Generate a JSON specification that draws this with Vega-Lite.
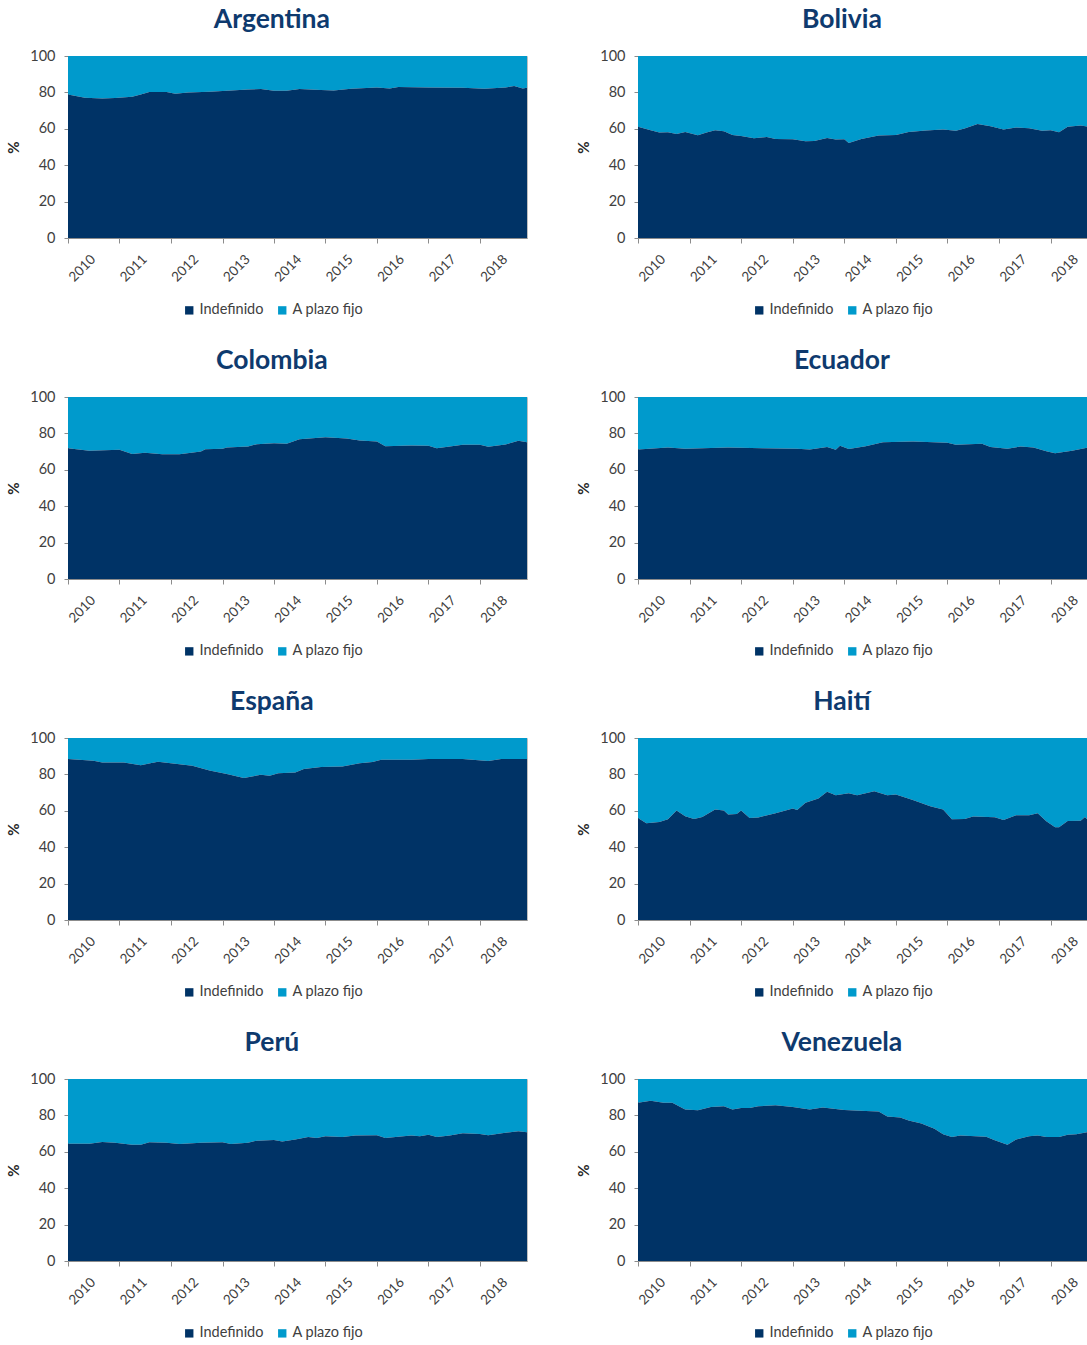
{
  "$schema": "https://vega.github.io/schema/vega-lite/v6.json",
  "padding": {"left": 6, "top": 6, "right": 0, "bottom": 0},
  "background": "white",
  "data": {
    "values": [
      {"c": "Argentina", "d": "2010-01-01", "i": 78.9},
      {"c": "Argentina", "d": "2010-05-01", "i": 77.1},
      {"c": "Argentina", "d": "2010-09-01", "i": 76.7},
      {"c": "Argentina", "d": "2010-12-01", "i": 76.9},
      {"c": "Argentina", "d": "2011-04-01", "i": 77.6},
      {"c": "Argentina", "d": "2011-06-01", "i": 78.9},
      {"c": "Argentina", "d": "2011-08-01", "i": 80.2},
      {"c": "Argentina", "d": "2011-12-01", "i": 80.2},
      {"c": "Argentina", "d": "2012-02-01", "i": 79.3},
      {"c": "Argentina", "d": "2012-05-01", "i": 80.0},
      {"c": "Argentina", "d": "2012-10-01", "i": 80.4},
      {"c": "Argentina", "d": "2013-02-01", "i": 80.9},
      {"c": "Argentina", "d": "2013-07-01", "i": 81.6},
      {"c": "Argentina", "d": "2013-10-01", "i": 81.8},
      {"c": "Argentina", "d": "2014-01-01", "i": 80.9},
      {"c": "Argentina", "d": "2014-04-01", "i": 80.9},
      {"c": "Argentina", "d": "2014-07-01", "i": 81.8},
      {"c": "Argentina", "d": "2014-12-01", "i": 81.3},
      {"c": "Argentina", "d": "2015-03-01", "i": 81.1},
      {"c": "Argentina", "d": "2015-07-01", "i": 82.0},
      {"c": "Argentina", "d": "2016-01-01", "i": 82.7},
      {"c": "Argentina", "d": "2016-04-01", "i": 82.2},
      {"c": "Argentina", "d": "2016-06-01", "i": 82.9},
      {"c": "Argentina", "d": "2017-01-01", "i": 82.7},
      {"c": "Argentina", "d": "2017-09-01", "i": 82.5},
      {"c": "Argentina", "d": "2018-02-01", "i": 82.0},
      {"c": "Argentina", "d": "2018-07-01", "i": 82.7},
      {"c": "Argentina", "d": "2018-09-01", "i": 83.5},
      {"c": "Argentina", "d": "2018-11-01", "i": 82.2},
      {"c": "Argentina", "d": "2018-12-01", "i": 82.5},

      {"c": "Bolivia", "d": "2010-01-01", "i": 61.1},
      {"c": "Bolivia", "d": "2010-04-01", "i": 59.2},
      {"c": "Bolivia", "d": "2010-06-01", "i": 57.9},
      {"c": "Bolivia", "d": "2010-08-01", "i": 58.1},
      {"c": "Bolivia", "d": "2010-10-01", "i": 57.2},
      {"c": "Bolivia", "d": "2010-12-01", "i": 58.3},
      {"c": "Bolivia", "d": "2011-03-01", "i": 56.5},
      {"c": "Bolivia", "d": "2011-05-01", "i": 57.9},
      {"c": "Bolivia", "d": "2011-07-01", "i": 59.2},
      {"c": "Bolivia", "d": "2011-09-01", "i": 58.7},
      {"c": "Bolivia", "d": "2011-11-01", "i": 56.6},
      {"c": "Bolivia", "d": "2012-01-01", "i": 56.1},
      {"c": "Bolivia", "d": "2012-04-01", "i": 54.8},
      {"c": "Bolivia", "d": "2012-07-01", "i": 55.5},
      {"c": "Bolivia", "d": "2012-09-01", "i": 54.4},
      {"c": "Bolivia", "d": "2013-01-01", "i": 54.2},
      {"c": "Bolivia", "d": "2013-04-01", "i": 53.1},
      {"c": "Bolivia", "d": "2013-06-01", "i": 53.3},
      {"c": "Bolivia", "d": "2013-09-01", "i": 55.0},
      {"c": "Bolivia", "d": "2013-11-01", "i": 54.1},
      {"c": "Bolivia", "d": "2014-01-01", "i": 54.2},
      {"c": "Bolivia", "d": "2014-02-01", "i": 52.2},
      {"c": "Bolivia", "d": "2014-05-01", "i": 54.4},
      {"c": "Bolivia", "d": "2014-09-01", "i": 56.3},
      {"c": "Bolivia", "d": "2015-01-01", "i": 56.6},
      {"c": "Bolivia", "d": "2015-04-01", "i": 58.3},
      {"c": "Bolivia", "d": "2015-08-01", "i": 59.0},
      {"c": "Bolivia", "d": "2015-12-01", "i": 59.6},
      {"c": "Bolivia", "d": "2016-03-01", "i": 58.9},
      {"c": "Bolivia", "d": "2016-05-01", "i": 60.1},
      {"c": "Bolivia", "d": "2016-08-01", "i": 62.7},
      {"c": "Bolivia", "d": "2016-11-01", "i": 61.4},
      {"c": "Bolivia", "d": "2017-02-01", "i": 59.6},
      {"c": "Bolivia", "d": "2017-05-01", "i": 60.7},
      {"c": "Bolivia", "d": "2017-08-01", "i": 60.3},
      {"c": "Bolivia", "d": "2017-11-01", "i": 58.9},
      {"c": "Bolivia", "d": "2018-01-01", "i": 59.2},
      {"c": "Bolivia", "d": "2018-03-01", "i": 58.1},
      {"c": "Bolivia", "d": "2018-05-01", "i": 61.1},
      {"c": "Bolivia", "d": "2018-08-01", "i": 61.8},
      {"c": "Bolivia", "d": "2018-09-15", "i": 61.3},

      {"c": "Colombia", "d": "2010-01-01", "i": 71.8},
      {"c": "Colombia", "d": "2010-06-01", "i": 70.4},
      {"c": "Colombia", "d": "2011-01-01", "i": 71.0},
      {"c": "Colombia", "d": "2011-04-01", "i": 68.7},
      {"c": "Colombia", "d": "2011-07-01", "i": 69.3},
      {"c": "Colombia", "d": "2011-11-01", "i": 68.5},
      {"c": "Colombia", "d": "2012-03-01", "i": 68.5},
      {"c": "Colombia", "d": "2012-08-01", "i": 70.0},
      {"c": "Colombia", "d": "2012-09-01", "i": 71.3},
      {"c": "Colombia", "d": "2013-01-01", "i": 71.6},
      {"c": "Colombia", "d": "2013-02-01", "i": 72.2},
      {"c": "Colombia", "d": "2013-07-01", "i": 72.8},
      {"c": "Colombia", "d": "2013-09-01", "i": 74.1},
      {"c": "Colombia", "d": "2014-01-01", "i": 74.6},
      {"c": "Colombia", "d": "2014-04-01", "i": 74.3},
      {"c": "Colombia", "d": "2014-07-01", "i": 76.8},
      {"c": "Colombia", "d": "2015-01-01", "i": 77.9},
      {"c": "Colombia", "d": "2015-06-01", "i": 77.2},
      {"c": "Colombia", "d": "2015-09-01", "i": 76.1},
      {"c": "Colombia", "d": "2016-01-01", "i": 75.6},
      {"c": "Colombia", "d": "2016-03-01", "i": 73.0},
      {"c": "Colombia", "d": "2016-09-01", "i": 73.4},
      {"c": "Colombia", "d": "2017-01-01", "i": 73.2},
      {"c": "Colombia", "d": "2017-03-01", "i": 71.9},
      {"c": "Colombia", "d": "2017-09-01", "i": 73.7},
      {"c": "Colombia", "d": "2018-01-01", "i": 73.7},
      {"c": "Colombia", "d": "2018-03-01", "i": 72.6},
      {"c": "Colombia", "d": "2018-07-01", "i": 73.9},
      {"c": "Colombia", "d": "2018-10-01", "i": 75.9},
      {"c": "Colombia", "d": "2018-12-01", "i": 75.2},

      {"c": "Ecuador", "d": "2010-01-01", "i": 71.2},
      {"c": "Ecuador", "d": "2010-08-01", "i": 72.3},
      {"c": "Ecuador", "d": "2010-12-01", "i": 71.5},
      {"c": "Ecuador", "d": "2011-10-01", "i": 72.3},
      {"c": "Ecuador", "d": "2012-06-01", "i": 71.9},
      {"c": "Ecuador", "d": "2013-02-01", "i": 71.5},
      {"c": "Ecuador", "d": "2013-05-01", "i": 71.2},
      {"c": "Ecuador", "d": "2013-09-01", "i": 72.5},
      {"c": "Ecuador", "d": "2013-11-01", "i": 71.0},
      {"c": "Ecuador", "d": "2013-12-01", "i": 73.2},
      {"c": "Ecuador", "d": "2014-02-01", "i": 71.4},
      {"c": "Ecuador", "d": "2014-06-01", "i": 73.0},
      {"c": "Ecuador", "d": "2014-10-01", "i": 75.2},
      {"c": "Ecuador", "d": "2015-05-01", "i": 75.6},
      {"c": "Ecuador", "d": "2016-01-01", "i": 74.8},
      {"c": "Ecuador", "d": "2016-03-01", "i": 73.7},
      {"c": "Ecuador", "d": "2016-09-01", "i": 74.3},
      {"c": "Ecuador", "d": "2016-11-01", "i": 72.5},
      {"c": "Ecuador", "d": "2017-03-01", "i": 71.5},
      {"c": "Ecuador", "d": "2017-06-01", "i": 72.8},
      {"c": "Ecuador", "d": "2017-09-01", "i": 72.3},
      {"c": "Ecuador", "d": "2017-12-01", "i": 70.2},
      {"c": "Ecuador", "d": "2018-02-01", "i": 69.1},
      {"c": "Ecuador", "d": "2018-06-01", "i": 70.4},
      {"c": "Ecuador", "d": "2018-09-15", "i": 72.1},

      {"c": "España", "d": "2010-01-01", "i": 88.4},
      {"c": "España", "d": "2010-07-01", "i": 87.5},
      {"c": "España", "d": "2010-09-01", "i": 86.6},
      {"c": "España", "d": "2011-02-01", "i": 86.6},
      {"c": "España", "d": "2011-06-01", "i": 85.0},
      {"c": "España", "d": "2011-10-01", "i": 87.0},
      {"c": "España", "d": "2012-01-01", "i": 86.1},
      {"c": "España", "d": "2012-06-01", "i": 84.8},
      {"c": "España", "d": "2012-10-01", "i": 82.2},
      {"c": "España", "d": "2013-02-01", "i": 80.2},
      {"c": "España", "d": "2013-06-01", "i": 78.0},
      {"c": "España", "d": "2013-10-01", "i": 79.8},
      {"c": "España", "d": "2013-12-01", "i": 79.3},
      {"c": "España", "d": "2014-02-01", "i": 80.6},
      {"c": "España", "d": "2014-06-01", "i": 81.1},
      {"c": "España", "d": "2014-08-01", "i": 82.9},
      {"c": "España", "d": "2014-12-01", "i": 84.0},
      {"c": "España", "d": "2015-05-01", "i": 84.4},
      {"c": "España", "d": "2015-09-01", "i": 86.1},
      {"c": "España", "d": "2015-12-01", "i": 86.8},
      {"c": "España", "d": "2016-02-01", "i": 88.1},
      {"c": "España", "d": "2016-09-01", "i": 88.1},
      {"c": "España", "d": "2017-01-01", "i": 88.4},
      {"c": "España", "d": "2017-09-01", "i": 88.4},
      {"c": "España", "d": "2018-03-01", "i": 87.3},
      {"c": "España", "d": "2018-06-01", "i": 88.4},
      {"c": "España", "d": "2018-12-01", "i": 88.4},

      {"c": "Haití", "d": "2010-01-01", "i": 56.1},
      {"c": "Haití", "d": "2010-03-01", "i": 53.1},
      {"c": "Haití", "d": "2010-06-01", "i": 53.9},
      {"c": "Haití", "d": "2010-08-01", "i": 55.4},
      {"c": "Haití", "d": "2010-10-01", "i": 60.1},
      {"c": "Haití", "d": "2010-12-01", "i": 57.0},
      {"c": "Haití", "d": "2011-02-01", "i": 55.5},
      {"c": "Haití", "d": "2011-04-01", "i": 56.6},
      {"c": "Haití", "d": "2011-07-01", "i": 60.7},
      {"c": "Haití", "d": "2011-09-01", "i": 60.1},
      {"c": "Haití", "d": "2011-10-01", "i": 57.9},
      {"c": "Haití", "d": "2011-12-01", "i": 58.3},
      {"c": "Haití", "d": "2012-01-01", "i": 60.1},
      {"c": "Haití", "d": "2012-03-01", "i": 56.1},
      {"c": "Haití", "d": "2012-05-01", "i": 56.3},
      {"c": "Haití", "d": "2012-09-01", "i": 58.7},
      {"c": "Haití", "d": "2013-01-01", "i": 61.3},
      {"c": "Haití", "d": "2013-02-01", "i": 60.5},
      {"c": "Haití", "d": "2013-04-01", "i": 64.4},
      {"c": "Haití", "d": "2013-07-01", "i": 66.8},
      {"c": "Haití", "d": "2013-09-01", "i": 70.5},
      {"c": "Haití", "d": "2013-11-01", "i": 68.6},
      {"c": "Haití", "d": "2014-02-01", "i": 69.7},
      {"c": "Haití", "d": "2014-04-01", "i": 68.6},
      {"c": "Haití", "d": "2014-08-01", "i": 70.8},
      {"c": "Haití", "d": "2014-11-01", "i": 68.6},
      {"c": "Haití", "d": "2015-01-01", "i": 69.0},
      {"c": "Haití", "d": "2015-05-01", "i": 65.9},
      {"c": "Haití", "d": "2015-09-01", "i": 62.5},
      {"c": "Haití", "d": "2015-12-01", "i": 60.7},
      {"c": "Haití", "d": "2016-02-01", "i": 55.4},
      {"c": "Haití", "d": "2016-05-01", "i": 55.5},
      {"c": "Haití", "d": "2016-07-01", "i": 56.8},
      {"c": "Haití", "d": "2016-12-01", "i": 56.5},
      {"c": "Haití", "d": "2017-02-01", "i": 55.0},
      {"c": "Haití", "d": "2017-05-01", "i": 57.6},
      {"c": "Haití", "d": "2017-08-01", "i": 57.6},
      {"c": "Haití", "d": "2017-10-01", "i": 58.7},
      {"c": "Haití", "d": "2017-12-01", "i": 54.2},
      {"c": "Haití", "d": "2018-02-01", "i": 50.9},
      {"c": "Haití", "d": "2018-03-01", "i": 50.9},
      {"c": "Haití", "d": "2018-05-01", "i": 54.4},
      {"c": "Haití", "d": "2018-08-01", "i": 54.6},
      {"c": "Haití", "d": "2018-09-01", "i": 56.6},
      {"c": "Haití", "d": "2018-09-15", "i": 55.4},

      {"c": "Perú", "d": "2010-01-01", "i": 64.4},
      {"c": "Perú", "d": "2010-06-01", "i": 64.4},
      {"c": "Perú", "d": "2010-09-01", "i": 65.4},
      {"c": "Perú", "d": "2010-12-01", "i": 65.0},
      {"c": "Perú", "d": "2011-04-01", "i": 63.9},
      {"c": "Perú", "d": "2011-06-01", "i": 63.9},
      {"c": "Perú", "d": "2011-08-01", "i": 65.2},
      {"c": "Perú", "d": "2011-12-01", "i": 65.0},
      {"c": "Perú", "d": "2012-03-01", "i": 64.3},
      {"c": "Perú", "d": "2012-08-01", "i": 65.0},
      {"c": "Perú", "d": "2013-01-01", "i": 65.2},
      {"c": "Perú", "d": "2013-03-01", "i": 64.3},
      {"c": "Perú", "d": "2013-07-01", "i": 65.0},
      {"c": "Perú", "d": "2013-09-01", "i": 66.1},
      {"c": "Perú", "d": "2014-01-01", "i": 66.5},
      {"c": "Perú", "d": "2014-03-01", "i": 65.6},
      {"c": "Perú", "d": "2014-06-01", "i": 66.7},
      {"c": "Perú", "d": "2014-09-01", "i": 68.1},
      {"c": "Perú", "d": "2014-11-01", "i": 67.6},
      {"c": "Perú", "d": "2015-01-01", "i": 68.5},
      {"c": "Perú", "d": "2015-05-01", "i": 68.1},
      {"c": "Perú", "d": "2015-08-01", "i": 68.9},
      {"c": "Perú", "d": "2016-01-01", "i": 69.1},
      {"c": "Perú", "d": "2016-03-01", "i": 67.6},
      {"c": "Perú", "d": "2016-09-01", "i": 68.9},
      {"c": "Perú", "d": "2016-11-01", "i": 68.5},
      {"c": "Perú", "d": "2017-01-01", "i": 69.3},
      {"c": "Perú", "d": "2017-03-01", "i": 68.1},
      {"c": "Perú", "d": "2017-06-01", "i": 68.9},
      {"c": "Perú", "d": "2017-09-01", "i": 70.2},
      {"c": "Perú", "d": "2018-01-01", "i": 69.8},
      {"c": "Perú", "d": "2018-03-01", "i": 69.1},
      {"c": "Perú", "d": "2018-07-01", "i": 70.4},
      {"c": "Perú", "d": "2018-10-01", "i": 71.3},
      {"c": "Perú", "d": "2018-12-01", "i": 70.7},

      {"c": "Venezuela", "d": "2010-01-01", "i": 87.0},
      {"c": "Venezuela", "d": "2010-04-01", "i": 88.0},
      {"c": "Venezuela", "d": "2010-07-01", "i": 87.0},
      {"c": "Venezuela", "d": "2010-09-01", "i": 87.0},
      {"c": "Venezuela", "d": "2010-12-01", "i": 83.3},
      {"c": "Venezuela", "d": "2011-03-01", "i": 82.8},
      {"c": "Venezuela", "d": "2011-06-01", "i": 84.6},
      {"c": "Venezuela", "d": "2011-09-01", "i": 85.0},
      {"c": "Venezuela", "d": "2011-11-01", "i": 83.3},
      {"c": "Venezuela", "d": "2012-01-01", "i": 84.1},
      {"c": "Venezuela", "d": "2012-03-01", "i": 84.1},
      {"c": "Venezuela", "d": "2012-05-01", "i": 85.0},
      {"c": "Venezuela", "d": "2012-09-01", "i": 85.6},
      {"c": "Venezuela", "d": "2013-01-01", "i": 84.6},
      {"c": "Venezuela", "d": "2013-05-01", "i": 83.3},
      {"c": "Venezuela", "d": "2013-08-01", "i": 84.4},
      {"c": "Venezuela", "d": "2014-01-01", "i": 83.0},
      {"c": "Venezuela", "d": "2014-06-01", "i": 82.4},
      {"c": "Venezuela", "d": "2014-09-01", "i": 82.2},
      {"c": "Venezuela", "d": "2014-11-01", "i": 79.4},
      {"c": "Venezuela", "d": "2015-02-01", "i": 78.9},
      {"c": "Venezuela", "d": "2015-04-01", "i": 77.2},
      {"c": "Venezuela", "d": "2015-07-01", "i": 75.6},
      {"c": "Venezuela", "d": "2015-10-01", "i": 72.6},
      {"c": "Venezuela", "d": "2015-12-01", "i": 69.6},
      {"c": "Venezuela", "d": "2016-02-01", "i": 68.1},
      {"c": "Venezuela", "d": "2016-04-01", "i": 68.9},
      {"c": "Venezuela", "d": "2016-10-01", "i": 68.3},
      {"c": "Venezuela", "d": "2016-12-01", "i": 66.3},
      {"c": "Venezuela", "d": "2017-03-01", "i": 63.9},
      {"c": "Venezuela", "d": "2017-05-01", "i": 66.7},
      {"c": "Venezuela", "d": "2017-08-01", "i": 68.5},
      {"c": "Venezuela", "d": "2017-10-01", "i": 68.9},
      {"c": "Venezuela", "d": "2017-12-01", "i": 68.1},
      {"c": "Venezuela", "d": "2018-03-01", "i": 68.1},
      {"c": "Venezuela", "d": "2018-05-01", "i": 69.3},
      {"c": "Venezuela", "d": "2018-07-01", "i": 69.6},
      {"c": "Venezuela", "d": "2018-09-15", "i": 70.7}
    ]
  },
  "columns": 2,
  "spacing": {"column": 48, "row": 29},
  "resolve": {"scale": {"color": "independent"}},
  "concat": [
    {
      "title": {"text": "Argentina", "dx": 5},
      "width": 459, "height": 182,
      "transform": [{"filter": "datum.c === 'Argentina'"}],
      "encoding": {
        "x": {"field": "d", "type": "temporal", "scale": {"type": "utc", "nice": false, "domain": [{"year": 2010, "month": 1, "date": 1, "utc": true}, {"year": 2018, "month": 12, "date": 1, "utc": true}]}, "axis": {"title": null}},
        "y": {"field": "i", "type": "quantitative", "scale": {"domain": [0, 100], "nice": false}, "axis": {"title": "%"}}
      },
      "layer": [
        {"mark": "area", "encoding": {"y2": {"datum": 100}, "color": {"datum": "A plazo fijo", "type": "nominal", "scale": {"domain": ["Indefinido", "A plazo fijo"], "range": ["#003366", "#009ACC"]}}}},
        {"mark": "area", "encoding": {"color": {"datum": "Indefinido", "type": "nominal", "scale": {"domain": ["Indefinido", "A plazo fijo"], "range": ["#003366", "#009ACC"]}}}}
      ]
    },
    {
      "title": {"text": "Bolivia", "dx": 10},
      "width": 449, "height": 182,
      "transform": [{"filter": "datum.c === 'Bolivia'"}],
      "encoding": {
        "x": {"field": "d", "type": "temporal", "scale": {"type": "utc", "nice": false, "domain": [{"year": 2010, "month": 1, "date": 1, "utc": true}, {"year": 2018, "month": 9, "date": 15, "utc": true}]}, "axis": {"title": null}},
        "y": {"field": "i", "type": "quantitative", "scale": {"domain": [0, 100], "nice": false}, "axis": {"title": "%"}}
      },
      "layer": [
        {"mark": "area", "encoding": {"y2": {"datum": 100}, "color": {"datum": "A plazo fijo", "type": "nominal", "scale": {"domain": ["Indefinido", "A plazo fijo"], "range": ["#003366", "#009ACC"]}}}},
        {"mark": "area", "encoding": {"color": {"datum": "Indefinido", "type": "nominal", "scale": {"domain": ["Indefinido", "A plazo fijo"], "range": ["#003366", "#009ACC"]}}}}
      ]
    },
    {
      "title": {"text": "Colombia", "dx": 5},
      "width": 459, "height": 182,
      "transform": [{"filter": "datum.c === 'Colombia'"}],
      "encoding": {
        "x": {"field": "d", "type": "temporal", "scale": {"type": "utc", "nice": false, "domain": [{"year": 2010, "month": 1, "date": 1, "utc": true}, {"year": 2018, "month": 12, "date": 1, "utc": true}]}, "axis": {"title": null}},
        "y": {"field": "i", "type": "quantitative", "scale": {"domain": [0, 100], "nice": false}, "axis": {"title": "%"}}
      },
      "layer": [
        {"mark": "area", "encoding": {"y2": {"datum": 100}, "color": {"datum": "A plazo fijo", "type": "nominal", "scale": {"domain": ["Indefinido", "A plazo fijo"], "range": ["#003366", "#009ACC"]}}}},
        {"mark": "area", "encoding": {"color": {"datum": "Indefinido", "type": "nominal", "scale": {"domain": ["Indefinido", "A plazo fijo"], "range": ["#003366", "#009ACC"]}}}}
      ]
    },
    {
      "title": {"text": "Ecuador", "dx": 10},
      "width": 449, "height": 182,
      "transform": [{"filter": "datum.c === 'Ecuador'"}],
      "encoding": {
        "x": {"field": "d", "type": "temporal", "scale": {"type": "utc", "nice": false, "domain": [{"year": 2010, "month": 1, "date": 1, "utc": true}, {"year": 2018, "month": 9, "date": 15, "utc": true}]}, "axis": {"title": null}},
        "y": {"field": "i", "type": "quantitative", "scale": {"domain": [0, 100], "nice": false}, "axis": {"title": "%"}}
      },
      "layer": [
        {"mark": "area", "encoding": {"y2": {"datum": 100}, "color": {"datum": "A plazo fijo", "type": "nominal", "scale": {"domain": ["Indefinido", "A plazo fijo"], "range": ["#003366", "#009ACC"]}}}},
        {"mark": "area", "encoding": {"color": {"datum": "Indefinido", "type": "nominal", "scale": {"domain": ["Indefinido", "A plazo fijo"], "range": ["#003366", "#009ACC"]}}}}
      ]
    },
    {
      "title": {"text": "España", "dx": 5},
      "width": 459, "height": 182,
      "transform": [{"filter": "datum.c === 'España'"}],
      "encoding": {
        "x": {"field": "d", "type": "temporal", "scale": {"type": "utc", "nice": false, "domain": [{"year": 2010, "month": 1, "date": 1, "utc": true}, {"year": 2018, "month": 12, "date": 1, "utc": true}]}, "axis": {"title": null}},
        "y": {"field": "i", "type": "quantitative", "scale": {"domain": [0, 100], "nice": false}, "axis": {"title": "%"}}
      },
      "layer": [
        {"mark": "area", "encoding": {"y2": {"datum": 100}, "color": {"datum": "A plazo fijo", "type": "nominal", "scale": {"domain": ["Indefinido", "A plazo fijo"], "range": ["#003366", "#009ACC"]}}}},
        {"mark": "area", "encoding": {"color": {"datum": "Indefinido", "type": "nominal", "scale": {"domain": ["Indefinido", "A plazo fijo"], "range": ["#003366", "#009ACC"]}}}}
      ]
    },
    {
      "title": {"text": "Haití", "dx": 10},
      "width": 449, "height": 182,
      "transform": [{"filter": "datum.c === 'Haití'"}],
      "encoding": {
        "x": {"field": "d", "type": "temporal", "scale": {"type": "utc", "nice": false, "domain": [{"year": 2010, "month": 1, "date": 1, "utc": true}, {"year": 2018, "month": 9, "date": 15, "utc": true}]}, "axis": {"title": null}},
        "y": {"field": "i", "type": "quantitative", "scale": {"domain": [0, 100], "nice": false}, "axis": {"title": "%"}}
      },
      "layer": [
        {"mark": "area", "encoding": {"y2": {"datum": 100}, "color": {"datum": "A plazo fijo", "type": "nominal", "scale": {"domain": ["Indefinido", "A plazo fijo"], "range": ["#003366", "#009ACC"]}}}},
        {"mark": "area", "encoding": {"color": {"datum": "Indefinido", "type": "nominal", "scale": {"domain": ["Indefinido", "A plazo fijo"], "range": ["#003366", "#009ACC"]}}}}
      ]
    },
    {
      "title": {"text": "Perú", "dx": 5},
      "width": 459, "height": 182,
      "transform": [{"filter": "datum.c === 'Perú'"}],
      "encoding": {
        "x": {"field": "d", "type": "temporal", "scale": {"type": "utc", "nice": false, "domain": [{"year": 2010, "month": 1, "date": 1, "utc": true}, {"year": 2018, "month": 12, "date": 1, "utc": true}]}, "axis": {"title": null}},
        "y": {"field": "i", "type": "quantitative", "scale": {"domain": [0, 100], "nice": false}, "axis": {"title": "%"}}
      },
      "layer": [
        {"mark": "area", "encoding": {"y2": {"datum": 100}, "color": {"datum": "A plazo fijo", "type": "nominal", "scale": {"domain": ["Indefinido", "A plazo fijo"], "range": ["#003366", "#009ACC"]}}}},
        {"mark": "area", "encoding": {"color": {"datum": "Indefinido", "type": "nominal", "scale": {"domain": ["Indefinido", "A plazo fijo"], "range": ["#003366", "#009ACC"]}}}}
      ]
    },
    {
      "title": {"text": "Venezuela", "dx": 10},
      "width": 449, "height": 182,
      "transform": [{"filter": "datum.c === 'Venezuela'"}],
      "encoding": {
        "x": {"field": "d", "type": "temporal", "scale": {"type": "utc", "nice": false, "domain": [{"year": 2010, "month": 1, "date": 1, "utc": true}, {"year": 2018, "month": 9, "date": 15, "utc": true}]}, "axis": {"title": null}},
        "y": {"field": "i", "type": "quantitative", "scale": {"domain": [0, 100], "nice": false}, "axis": {"title": "%"}}
      },
      "layer": [
        {"mark": "area", "encoding": {"y2": {"datum": 100}, "color": {"datum": "A plazo fijo", "type": "nominal", "scale": {"domain": ["Indefinido", "A plazo fijo"], "range": ["#003366", "#009ACC"]}}}},
        {"mark": "area", "encoding": {"color": {"datum": "Indefinido", "type": "nominal", "scale": {"domain": ["Indefinido", "A plazo fijo"], "range": ["#003366", "#009ACC"]}}}}
      ]
    }
  ],
  "config": {
    "font": "Lato",
    "view": {"stroke": "#BFBFBF", "strokeWidth": 1},
    "area": {"interpolate": "linear", "strokeWidth": 0},
    "title": {"font": "Lato", "fontSize": 26.5, "fontWeight": "bold", "color": "#0E3A6E", "anchor": "middle", "frame": "bounds", "offset": 15},
    "axis": {"grid": false, "labelFont": "Lato", "labelFontSize": 14, "labelColor": "#404040", "domainColor": "#8C8C8C", "tickColor": "#8C8C8C", "titleFont": "Lato"},
    "axisX": {"tickCount": {"interval": "year", "step": 1}, "format": "%Y", "labelAngle": -45, "labelOffset": 20, "labelPadding": 9, "tickSize": 5, "labelFontSize": 13.5, "labelOverlap": false, "labelFlush": false},
    "axisY": {"values": [0, 20, 40, 60, 80, 100], "tickSize": 4, "labelPadding": 9, "labelFontSize": 14.5, "titleFontSize": 15, "titleFontWeight": "bold", "titleColor": "#262626", "titlePadding": 8},
    "legend": {"orient": "none", "legendX": 114, "legendY": 247, "direction": "horizontal", "title": null, "symbolType": "square", "symbolSize": 70, "symbolStrokeWidth": 0, "labelFont": "Lato", "labelFontSize": 14.5, "labelColor": "#404040", "labelOffset": 3, "columnPadding": 11}
  }
}
